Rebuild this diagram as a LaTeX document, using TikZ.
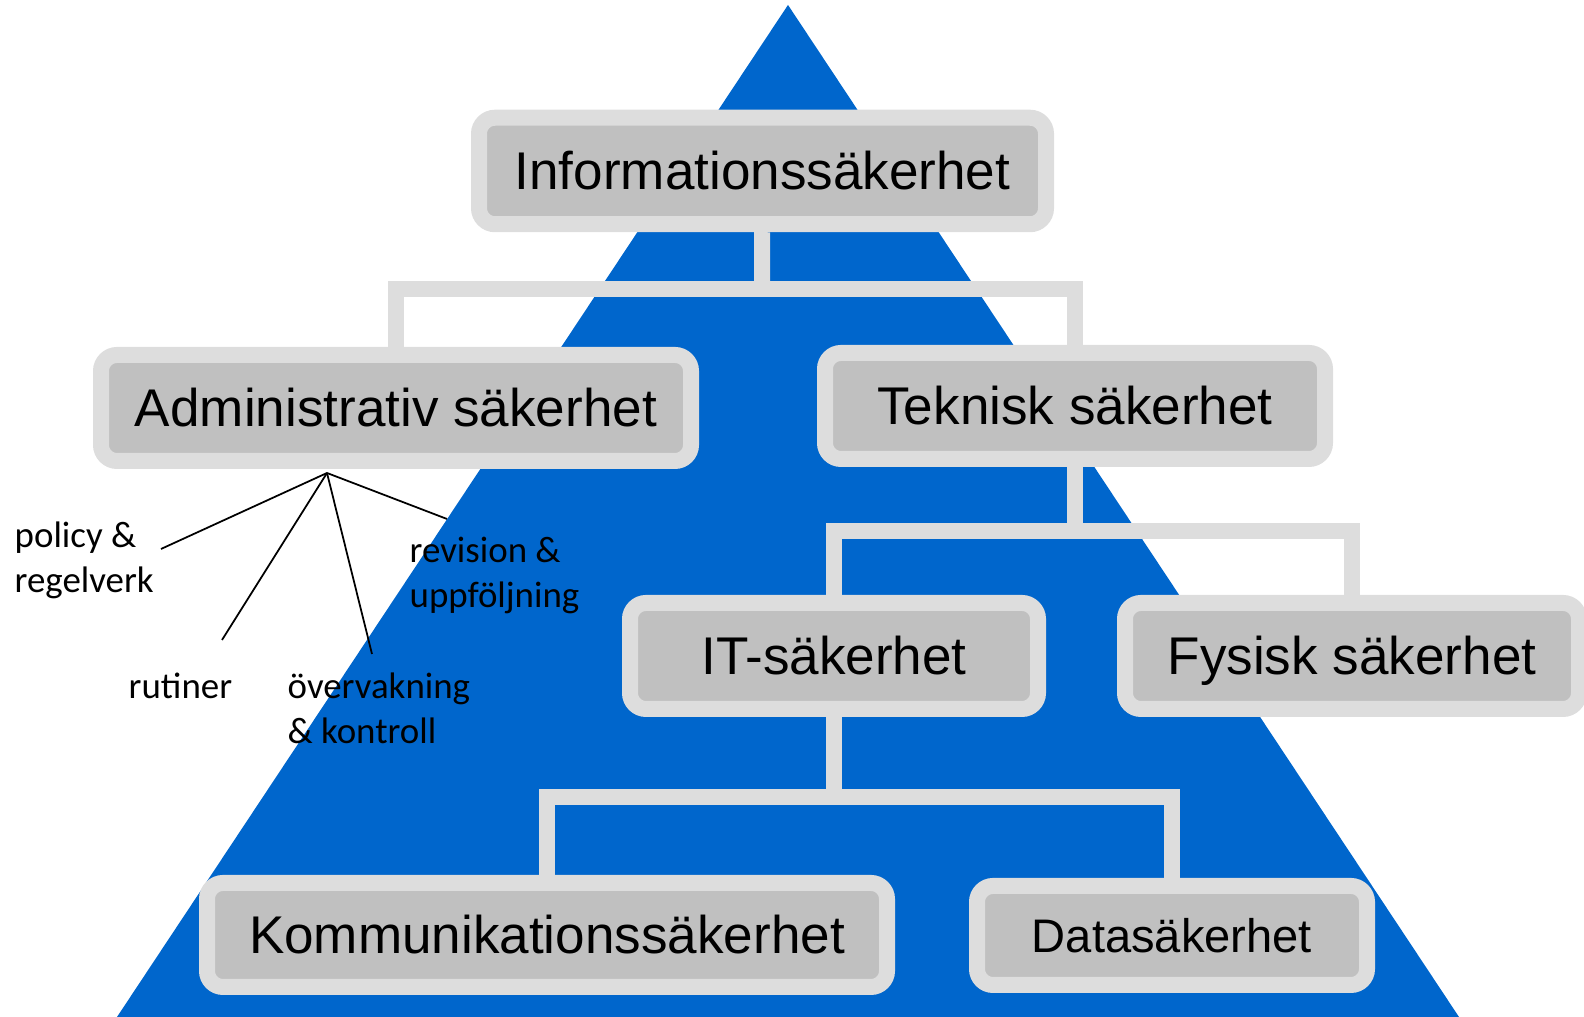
\documentclass[tikz,border=0pt]{standalone}
\usepackage{fontspec}
\setmainfont{Liberation Sans}
\newfontfamily\notefont{Carlito}
\definecolor{pyramidblue}{HTML}{0066CC}
\definecolor{ringgrey}{HTML}{DDDDDD}
\definecolor{boxgrey}{HTML}{C0C0C0}

\begin{document}
\begin{tikzpicture}[
        box/.style={draw=ringgrey, fill=boxgrey, line width=0.16cm, rounded corners=0.16cm,
            inner sep=0pt, text height=0.38cm, text depth=0pt, font=\fontsize{15.1}{18}\selectfont},
        link/.style={draw=ringgrey, line width=0.16cm},
        note/.style={font=\notefont\fontsize{10.5}{12.8}\selectfont, align=left, inner sep=0pt},
        tick/.style={draw=black, line width=0.5pt}]

        % Frame (same size as the reference)
        \useasboundingbox (0,0) rectangle (15.84,10.17);

        % Pyramid in the background
        \fill[pyramidblue] (1.17,0) -- (14.59,0) -- (7.88,10.12) -- cycle;

        % Top level
        \node[box, minimum width=5.67cm, minimum height=1.065cm] (info) at (7.625,8.46) {Informationssäkerhet};

        % Second level
        \node[box, minimum width=5.90cm, minimum height=1.06cm] (admin) at (3.96,6.09) {Administrativ säkerhet};
        \node[box, minimum width=5.00cm, minimum height=1.06cm] (teknisk) at (10.75,6.11) {Teknisk säkerhet};

        % Third level
        \node[box, minimum width=4.08cm, minimum height=1.06cm] (it) at (8.34,3.61) {IT-säkerhet};
        \node[box, minimum width=4.54cm, minimum height=1.06cm] (fysisk) at (13.52,3.61) {Fysisk säkerhet};

        % Bottom level
        \node[box, minimum width=6.80cm, minimum height=1.04cm] (komm) at (5.47,0.82) {Kommunikationssäkerhet};
        \node[box, minimum width=3.90cm, minimum height=0.99cm, text height=0.337cm,
            font=\fontsize{13.4}{16}\selectfont] (data) at (11.72,0.815) {Datasäkerhet};

        % Joints of the tree
        \coordinate (j1) at (7.62,7.28);
        \coordinate (j2) at (10.75,4.86);
        \coordinate (j3) at (8.34,2.20);

        % Connectors
        \draw[link] (info) -- (j1);
        \draw[link] (admin) |- (j1) -| (teknisk);
        \draw[link] (teknisk) -- (j2);
        \draw[link] (it) |- (j2) -| (fysisk);
        \draw[link] (it) -- (j3);
        \draw[link] (komm) |- (j3) -| (data);

        % Parts of administrative security (base = last line)
        \node[note, anchor=base west] (policy) at (0.14,4.24) {policy \&\\regelverk};
        \node[note, anchor=base west] (revision) at (4.09,4.09) {revision \&\\uppföljning};
        \node[note, anchor=base west] (rutiner) at (1.28,3.18) {rutiner};
        \node[note, anchor=base west] (overv) at (2.87,2.73) {övervakning\\\& kontroll};

        % Fan of thin lines below the box
        \coordinate (hub) at (3.27,5.44);
        \coordinate (policyend) at (1.61,4.68);
        \coordinate (rutinerend) at (2.22,3.77);
        \coordinate (overvend) at (3.72,3.63);
        \coordinate (revisionend) at (4.47,4.98);
        \draw[tick] (hub) -- (policyend);
        \draw[tick] (hub) -- (rutinerend);
        \draw[tick] (hub) -- (overvend);
        \draw[tick] (hub) -- (revisionend);
    \end{tikzpicture}
\end{document}
